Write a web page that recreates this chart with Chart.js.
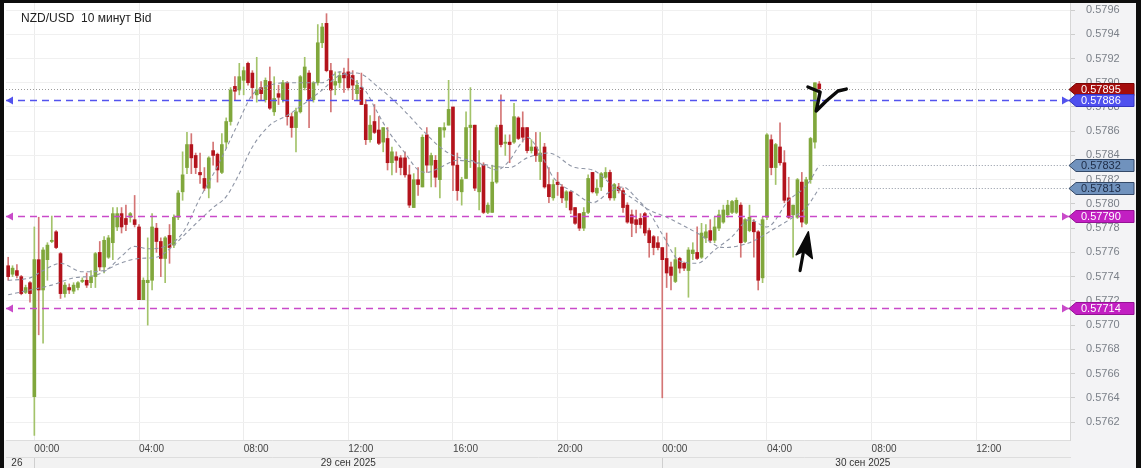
<!DOCTYPE html>
<html>
<head>
<meta charset="utf-8">
<script src="https://cdn.jsdelivr.net/npm/chart.js@4.4.1/dist/chart.umd.min.js"></script>
<style>
  html, body { margin: 0; padding: 0; background: #0d0d0d; }
  #chart-container { position: absolute; left: 4px; top: 3px; width: 1132px; height: 465px; }
</style>
</head>
<body>
<div id="chart-container"><canvas id="chart"></canvas></div>
<script>
// 10-minute candles, NZD/USD, from Fri 26 23:00 to Tue 30 06:00
const opens = [
  0.57749,0.57742,0.57745,0.57740,0.57727,0.57735,0.57641,0.57754,0.57729,0.57754,
  0.57769,0.57777,0.57759,0.57726,0.57731,0.57728,0.57731,0.57736,0.57737,0.57735,
  0.57740,0.57760,0.57748,0.57756,0.57768,0.57781,0.57792,0.57788,0.57789,0.57787,
  0.57781,0.57721,0.57735,0.57737,0.57780,0.57769,0.57755,0.57774,0.57766,0.57789,
  0.57810,0.57830,0.57849,0.57840,0.57826,0.57821,0.57813,0.57844,0.57841,0.57826,
  0.57851,0.57868,0.57897,0.57894,0.57902,0.57916,0.57908,0.57890,0.57896,0.57886,
  0.57901,0.57876,0.57891,0.57886,0.57900,0.57872,0.57863,0.57876,0.57896,0.57908,
  0.57886,0.57900,0.57933,0.57949,0.57910,0.57898,0.57900,0.57908,0.57909,0.57906,
  0.57891,0.57896,0.57882,0.57853,0.57868,0.57861,0.57851,0.57854,0.57834,0.57839,
  0.57838,0.57838,0.57824,0.57797,0.57820,0.57814,0.57857,0.57832,0.57836,0.57820,
  0.57861,0.57865,0.57880,0.57832,0.57810,0.57821,0.57863,0.57865,0.57810,0.57832,
  0.57793,0.57793,0.57818,0.57865,0.57850,0.57851,0.57851,0.57871,0.57863,0.57863,
  0.57844,0.57847,0.57835,0.57847,0.57816,0.57805,0.57818,0.57814,0.57803,0.57810,
  0.57797,0.57792,0.57780,0.57793,0.57826,0.57809,0.57814,0.57822,0.57826,0.57805,
  0.57814,0.57811,0.57799,0.57791,0.57787,0.57788,0.57792,0.57778,0.57773,0.57768,
  0.57764,0.57755,0.57748,0.57736,0.57755,0.57751,0.57745,0.57759,0.57760,0.57756,
  0.57772,0.57778,0.57770,0.57780,0.57785,0.57791,0.57793,0.57793,0.57799,0.57769,
  0.57778,0.57785,0.57777,0.57739,0.57789,0.57853,0.57830,0.57847,0.57834,0.57805,
  0.57791,0.57789,0.57818,0.57784,0.57820,0.57851,0.57899
];
const highs = [
  0.57756,0.57749,0.57750,0.57741,0.57733,0.57736,0.57781,0.57789,0.57764,0.57768,
  0.57790,0.57778,0.57760,0.57735,0.57734,0.57735,0.57736,0.57739,0.57743,0.57745,
  0.57760,0.57769,0.57773,0.57774,0.57797,0.57797,0.57797,0.57799,0.57793,0.57807,
  0.57783,0.57739,0.57772,0.57792,0.57784,0.57772,0.57773,0.57783,0.57791,0.57811,
  0.57843,0.57859,0.57858,0.57842,0.57842,0.57830,0.57839,0.57851,0.57842,0.57858,
  0.57871,0.57896,0.57905,0.57916,0.57913,0.57917,0.57910,0.57921,0.57901,0.57904,
  0.57913,0.57905,0.57898,0.57902,0.57901,0.57875,0.57879,0.57906,0.57921,0.57910,
  0.57901,0.57948,0.57949,0.57957,0.57916,0.57909,0.57909,0.57912,0.57920,0.57910,
  0.57902,0.57908,0.57886,0.57873,0.57882,0.57872,0.57863,0.57863,0.57847,0.57843,
  0.57840,0.57843,0.57832,0.57825,0.57830,0.57857,0.57863,0.57842,0.57840,0.57863,
  0.57867,0.57902,0.57880,0.57842,0.57822,0.57876,0.57896,0.57865,0.57844,0.57834,
  0.57801,0.57832,0.57865,0.57890,0.57857,0.57857,0.57883,0.57872,0.57876,0.57863,
  0.57853,0.57859,0.57859,0.57850,0.57830,0.57820,0.57826,0.57816,0.57811,0.57810,
  0.57797,0.57792,0.57797,0.57824,0.57826,0.57820,0.57826,0.57830,0.57828,0.57817,
  0.57817,0.57813,0.57801,0.57795,0.57795,0.57792,0.57793,0.57780,0.57774,0.57773,
  0.57764,0.57776,0.57752,0.57764,0.57756,0.57752,0.57764,0.57768,0.57781,0.57784,
  0.57783,0.57787,0.57789,0.57795,0.57799,0.57803,0.57803,0.57805,0.57801,0.57788,
  0.57799,0.57787,0.57778,0.57789,0.57858,0.57857,0.57850,0.57867,0.57844,0.57822,
  0.57799,0.57821,0.57826,0.57822,0.57855,0.57900,0.57901
];
const lows = [
  0.57737,0.57740,0.57739,0.57725,0.57726,0.57719,0.57609,0.57692,0.57685,0.57737,
  0.57768,0.57763,0.57722,0.57723,0.57726,0.57726,0.57729,0.57735,0.57731,0.57731,
  0.57731,0.57745,0.57743,0.57755,0.57754,0.57778,0.57776,0.57778,0.57785,0.57781,
  0.57721,0.57721,0.57700,0.57729,0.57760,0.57740,0.57735,0.57751,0.57764,0.57787,
  0.57803,0.57825,0.57825,0.57825,0.57817,0.57811,0.57805,0.57832,0.57818,0.57825,
  0.57846,0.57865,0.57886,0.57890,0.57890,0.57898,0.57887,0.57884,0.57886,0.57884,
  0.57878,0.57873,0.57882,0.57884,0.57865,0.57855,0.57843,0.57875,0.57894,0.57863,
  0.57884,0.57898,0.57929,0.57909,0.57876,0.57890,0.57896,0.57892,0.57894,0.57886,
  0.57886,0.57882,0.57849,0.57851,0.57858,0.57849,0.57843,0.57828,0.57824,0.57826,
  0.57824,0.57822,0.57797,0.57797,0.57807,0.57814,0.57826,0.57814,0.57814,0.57805,
  0.57855,0.57865,0.57811,0.57803,0.57799,0.57821,0.57830,0.57811,0.57795,0.57792,
  0.57792,0.57793,0.57817,0.57847,0.57840,0.57834,0.57850,0.57853,0.57851,0.57842,
  0.57842,0.57835,0.57820,0.57813,0.57801,0.57803,0.57807,0.57801,0.57797,0.57792,
  0.57783,0.57778,0.57778,0.57792,0.57809,0.57807,0.57811,0.57821,0.57803,0.57803,
  0.57809,0.57793,0.57784,0.57773,0.57776,0.57780,0.57774,0.57756,0.57758,0.57762,
  0.57640,0.57731,0.57729,0.57735,0.57743,0.57745,0.57723,0.57754,0.57754,0.57755,
  0.57768,0.57768,0.57768,0.57778,0.57784,0.57789,0.57792,0.57792,0.57756,0.57768,
  0.57777,0.57756,0.57729,0.57735,0.57787,0.57824,0.57816,0.57832,0.57801,0.57788,
  0.57756,0.57788,0.57781,0.57783,0.57817,0.57846,0.57894
];
const closes = [
  0.57740,0.57747,0.57741,0.57726,0.57731,0.57726,0.57754,0.57729,0.57762,0.57766,
  0.57770,0.57764,0.57726,0.57733,0.57729,0.57733,0.57735,0.57737,0.57733,0.57740,
  0.57759,0.57748,0.57770,0.57772,0.57792,0.57792,0.57781,0.57783,0.57792,0.57783,
  0.57721,0.57737,0.57737,0.57781,0.57769,0.57755,0.57772,0.57764,0.57789,0.57809,
  0.57824,0.57849,0.57838,0.57830,0.57824,0.57813,0.57838,0.57840,0.57828,0.57849,
  0.57868,0.57894,0.57893,0.57905,0.57910,0.57900,0.57896,0.57894,0.57891,0.57902,
  0.57879,0.57887,0.57888,0.57900,0.57872,0.57863,0.57876,0.57905,0.57913,0.57886,
  0.57900,0.57933,0.57946,0.57910,0.57894,0.57901,0.57906,0.57904,0.57896,0.57898,
  0.57898,0.57882,0.57853,0.57865,0.57859,0.57850,0.57863,0.57834,0.57843,0.57836,
  0.57830,0.57824,0.57799,0.57820,0.57816,0.57855,0.57832,0.57840,0.57822,0.57863,
  0.57863,0.57878,0.57832,0.57811,0.57820,0.57863,0.57865,0.57813,0.57830,0.57793,
  0.57799,0.57818,0.57863,0.57849,0.57851,0.57849,0.57872,0.57854,0.57855,0.57844,
  0.57847,0.57840,0.57842,0.57814,0.57806,0.57816,0.57816,0.57805,0.57810,0.57795,
  0.57784,0.57780,0.57793,0.57821,0.57810,0.57813,0.57825,0.57826,0.57805,0.57816,
  0.57811,0.57797,0.57785,0.57784,0.57783,0.57783,0.57776,0.57768,0.57764,0.57764,
  0.57754,0.57743,0.57741,0.57754,0.57747,0.57747,0.57762,0.57762,0.57755,0.57776,
  0.57777,0.57770,0.57781,0.57791,0.57795,0.57799,0.57802,0.57803,0.57768,0.57787,
  0.57789,0.57777,0.57737,0.57787,0.57857,0.57830,0.57849,0.57834,0.57803,0.57789,
  0.57799,0.57820,0.57785,0.57820,0.57854,0.57900,0.57895
];

// moving averages at a few candles
const maFastIdx = [0,5,8,12,17,22,26,29,32,36,40,44,48,52,56,60,64,68,72,76,79,82,84,87,91,94,96,99,103,107,109,112,115,117,119,122,125,130,134,138,141,144,147,150,154,158,162,166,170,174,179,183,186];
const maFastVal = [0.57737,0.57739,0.57745,0.57751,0.57744,0.57745,0.57757,0.57765,0.57763,0.57765,0.57776,0.57805,0.57831,0.57861,0.57890,0.57898,0.57900,0.57900,0.57900,0.57909,0.57903,0.57893,0.57880,0.57861,0.57842,0.57828,0.57826,0.57830,0.57836,0.57834,0.57832,0.57828,0.57836,0.57847,0.57855,0.57842,0.57822,0.57809,0.57801,0.57810,0.57814,0.57805,0.57793,0.57775,0.57753,0.57751,0.57762,0.57773,0.57787,0.57781,0.57803,0.57815,0.57832];
const maSlowIdx = [0,5,10,15,20,25,30,34,38,40,44,47,50,53,56,60,64,68,72,76,80,85,90,95,99,102,106,110,115,119,124,130,134,139,143,147,151,158,164,170,175,180,183,186];
const maSlowVal = [0.57725,0.57729,0.57733,0.57739,0.57741,0.57750,0.57755,0.57756,0.57766,0.57773,0.57787,0.57797,0.57806,0.57825,0.57847,0.57865,0.57873,0.57883,0.57894,0.57906,0.57908,0.57896,0.57880,0.57861,0.57847,0.57840,0.57836,0.57832,0.57830,0.57838,0.57842,0.57830,0.57828,0.57814,0.57805,0.57795,0.57789,0.57776,0.57764,0.57768,0.57778,0.57789,0.57797,0.57813];

// horizontal levels drawn by the user
const userLevels = [0.57886, 0.57790, 0.57714];

// axis
const slotCount = 244;
const yMin = 0.576052, yMax = 0.579658, yStep = 0.0002;
const timeTickIdx = [6, 30, 54, 78, 102, 126, 150, 174, 198, 222];
const timeTickLabels = ['00:00','04:00','08:00','12:00','16:00','20:00','00:00','04:00','08:00','12:00'];
const dateTickIdx = [2, 78, 196];
const dateTickLabels = ['26', '29 сен 2025', '30 сен 2025'];
const dayStartIdx = [6, 150];

// hand drawn marks (candle index, price)
const arrowShaftIdx = [181.6, 182.4];
const arrowShaftVal = [0.57745, 0.57761];
const arrowHeadIdx = [183.5, 180.7, 182.4, 184.4];
const arrowHeadVal = [0.57777, 0.57758, 0.57761, 0.57755];
const scribbleIdx = [183.4, 186.2, 185.3, 187.6, 190.3, 192.2];
const scribbleVal = [0.578965, 0.578924, 0.578767, 0.578849, 0.578932, 0.578948];

const pad = n => String(n).padStart(2, '0');
const slots = [];
for (let i = 0; i < slotCount; i++) {
  if (i < 6) { slots.push('26.09 23:' + pad(i * 10)); continue; }
  const m = (i - 6) * 10;
  slots.push((29 + Math.floor(m / 1440)) + '.09 ' + pad(Math.floor((m % 1440) / 60)) + ':' + pad(m % 60));
}

const GREEN = '#80a73c', RED = '#b3131c';
const GREEN_WICK = '#a3c36a', RED_WICK = '#d47575';
const FONT = '"Liberation Sans", Arial, sans-serif';

const isUp = opens.map((o, k) => closes[k] >= o);
const bodyData = opens.map((o, k) => [o, closes[k]]);
const wickData = lows.map((l, k) => [l, highs[k]]);

const sparse = (idx, val) => {
  const out = new Array(opens.length).fill(null);
  idx.forEach((k, j) => { out[k] = val[j]; });
  return out;
};
const isMajor = v => Math.abs(v / yStep - Math.round(v / yStep)) < 1e-6;

const badgeValues = [closes[closes.length - 1], userLevels[0], maFastVal[maFastVal.length - 1], maSlowVal[maSlowVal.length - 1], userLevels[1], userLevels[2]];
const badgeStyles = [
  { bg: '#a50d0d', edge: '#7a0505', fg: '#ffffff' },
  { bg: '#4f50ef', edge: '#3435c0', fg: '#ffffff' },
  { bg: '#7092bd', edge: '#344968', fg: '#1d2b45' },
  { bg: '#7092bd', edge: '#344968', fg: '#1d2b45' },
  { bg: '#c21fc2', edge: '#951295', fg: '#ffffff' },
  { bg: '#c21fc2', edge: '#951295', fg: '#ffffff' }
];
const levelColors = ['#5353ee', '#c94ac9', '#c94ac9'];

const paint = {
  id: 'paint',
  beforeDraw(chart) {
    const { ctx, width, height, chartArea, scales } = chart;
    ctx.save();
    ctx.fillStyle = '#ffffff';
    ctx.fillRect(0, 0, width, height);
    ctx.fillStyle = '#f3f3f5';
    ctx.fillRect(scales.y.left, 0, width - scales.y.left, height);
    ctx.fillStyle = '#f2f2f2';
    ctx.fillRect(0, chartArea.bottom, scales.y.left, height - chartArea.bottom);
    ctx.restore();
  },
  afterDatasetsDraw(chart) {
    const { ctx, chartArea: a, scales: { x, y } } = chart;
    const py = v => Math.round(y.getPixelForValue(v)) + 0.5;
    ctx.save();
    ctx.beginPath();
    ctx.rect(a.left, a.top, a.right - a.left, a.bottom - a.top);
    ctx.clip();
    ctx.lineWidth = 1;

    // last price
    ctx.strokeStyle = '#9c9c9c';
    ctx.setLineDash([1, 2]);
    ctx.beginPath();
    ctx.moveTo(a.left, py(badgeValues[0]));
    ctx.lineTo(a.right, py(badgeValues[0]));
    ctx.stroke();

    // moving average end values
    ctx.strokeStyle = '#8e94a2';
    const xs = x.getPixelForValue(opens.length - 1 + 0.8);
    [badgeValues[2], badgeValues[3]].forEach(v => {
      ctx.beginPath();
      ctx.moveTo(xs, py(v));
      ctx.lineTo(a.right, py(v));
      ctx.stroke();
    });

    // user levels
    ctx.setLineDash([7, 5]);
    ctx.lineWidth = 1.3;
    userLevels.forEach((v, k) => {
      const yy = py(v);
      ctx.strokeStyle = levelColors[k];
      ctx.fillStyle = levelColors[k];
      ctx.beginPath();
      ctx.moveTo(a.left, yy);
      ctx.lineTo(a.right, yy);
      ctx.stroke();
      ctx.beginPath();
      ctx.moveTo(a.left, yy); ctx.lineTo(a.left + 7, yy - 4); ctx.lineTo(a.left + 7, yy + 4);
      ctx.fill();
      ctx.beginPath();
      ctx.moveTo(a.right - 1, yy); ctx.lineTo(a.right - 8, yy - 4); ctx.lineTo(a.right - 8, yy + 4);
      ctx.fill();
    });

    // hand drawn marks
    ctx.setLineDash([]);
    ctx.strokeStyle = '#0a0a0a';
    ctx.fillStyle = '#0a0a0a';
    ctx.lineCap = 'round';
    ctx.lineJoin = 'round';
    ctx.lineWidth = 3.2;
    ctx.beginPath();
    arrowShaftIdx.forEach((k, j) => {
      const px = x.getPixelForValue(k), yy = y.getPixelForValue(arrowShaftVal[j]);
      j ? ctx.lineTo(px, yy) : ctx.moveTo(px, yy);
    });
    ctx.stroke();
    ctx.beginPath();
    arrowHeadIdx.forEach((k, j) => {
      const px = x.getPixelForValue(k), yy = y.getPixelForValue(arrowHeadVal[j]);
      j ? ctx.lineTo(px, yy) : ctx.moveTo(px, yy);
    });
    ctx.closePath();
    ctx.fill();
    ctx.lineWidth = 1.5;
    ctx.stroke();
    ctx.lineWidth = 3.4;
    ctx.beginPath();
    scribbleIdx.forEach((k, j) => {
      const px = x.getPixelForValue(k), yy = y.getPixelForValue(scribbleVal[j]);
      j ? ctx.lineTo(px, yy) : ctx.moveTo(px, yy);
    });
    ctx.stroke();
    ctx.restore();
  },
  afterDraw(chart) {
    const { ctx, width, scales: { y } } = chart;
    ctx.save();
    ctx.font = '11px ' + FONT;
    ctx.textBaseline = 'middle';
    badgeValues.forEach((v, k) => {
      const st = badgeStyles[k];
      const yy = Math.round(y.getPixelForValue(v)) + 0.5;
      const x0 = y.left - 1, x1 = y.left + 6, x2 = width - 2;
      ctx.beginPath();
      ctx.moveTo(x0, yy);
      ctx.lineTo(x1, yy - 6);
      ctx.lineTo(x2, yy - 6);
      ctx.lineTo(x2, yy + 6);
      ctx.lineTo(x1, yy + 6);
      ctx.closePath();
      ctx.fillStyle = st.bg;
      ctx.fill();
      ctx.strokeStyle = st.edge;
      ctx.lineWidth = 1;
      ctx.stroke();
      ctx.fillStyle = st.fg;
      ctx.fillText(v.toFixed(5), y.left + 11, yy + 0.5);
    });
    ctx.font = '12px ' + FONT;
    ctx.fillStyle = '#222222';
    ctx.textBaseline = 'alphabetic';
    ctx.fillText('NZD/USD  10 минут Bid', 17, 19);
    ctx.restore();
  }
};

new Chart(document.getElementById('chart'), {
  type: 'bar',
  data: {
    labels: slots,
    datasets: [
      { type: 'line', data: sparse(maFastIdx, maFastVal), borderColor: '#8f96a6', borderWidth: 1.1, borderDash: [4, 3],
        pointRadius: 0, spanGaps: true, cubicInterpolationMode: 'monotone', fill: false, order: 0 },
      { type: 'line', data: sparse(maSlowIdx, maSlowVal), borderColor: '#8f96a6', borderWidth: 1.1, borderDash: [4, 3],
        pointRadius: 0, spanGaps: true, cubicInterpolationMode: 'monotone', fill: false, order: 0 },
      { data: bodyData, backgroundColor: isUp.map(u => u ? GREEN : RED), barThickness: 3, grouped: false, order: 1 },
      { data: wickData, backgroundColor: isUp.map(u => u ? GREEN_WICK : RED_WICK), barThickness: 1, grouped: false, order: 2 }
    ]
  },
  options: {
    responsive: true,
    maintainAspectRatio: false,
    animation: false,
    devicePixelRatio: 1,
    events: [],
    layout: { padding: { left: 2, right: 0, top: 0, bottom: 0 } },
    plugins: { legend: { display: false }, tooltip: { enabled: false }, title: { display: false } },
    scales: {
      x: {
        type: 'category', position: 'bottom', offset: true, weight: 0,
        grid: { offset: false, drawTicks: false, color: c => (c.tick && timeTickIdx.includes(c.tick.value)) ? '#ececec' : 'rgba(0,0,0,0)' },
        border: { display: true, color: '#dddddd' },
        ticks: {
          autoSkip: false, maxRotation: 0, minRotation: 0, align: 'start', padding: 3,
          color: '#444444', font: { family: FONT, size: 10 },
          callback: (v, i) => { const k = timeTickIdx.indexOf(v); return k >= 0 ? timeTickLabels[k] : null; }
        },
        afterFit: s => { s.height = 17; s.paddingLeft = 0; s.paddingRight = 0; }
      },
      x2: {
        type: 'category', position: 'bottom', offset: true, weight: 1,
        grid: { offset: false, drawOnChartArea: false, drawTicks: true, tickLength: 11,
          color: c => (c.tick && dayStartIdx.includes(c.tick.value)) ? '#cfcfcf' : 'rgba(0,0,0,0)' },
        border: { display: true, color: '#dddddd' },
        ticks: {
          autoSkip: false, maxRotation: 0, minRotation: 0, padding: -11,
          color: '#333333', font: { family: FONT, size: 10 },
          callback: (v, i) => {
            const k = dateTickIdx.indexOf(v);
            if (k >= 0) return dateTickLabels[k];
            return dayStartIdx.includes(v) ? '' : null;
          }
        },
        afterFit: s => { s.height = 11; s.paddingLeft = 0; s.paddingRight = 0; }
      },
      y: {
        type: 'linear', position: 'right', min: yMin, max: yMax,
        grid: { color: c => (c.tick && isMajor(c.tick.value)) ? '#f0f0f0' : 'rgba(0,0,0,0)', tickLength: 5, tickColor: '#cdcdcd' },
        border: { display: true, color: '#d6d6d6' },
        ticks: {
          stepSize: yStep, includeBounds: false, padding: 11, color: '#7b8089', font: { family: FONT, size: 11 },
          callback: v => isMajor(v) ? v.toFixed(4) : null
        },
        afterFit: s => { s.width = 66; s.paddingTop = 0; s.paddingBottom = 0; }
      }
    }
  },
  plugins: [paint]
});
</script>
</body>
</html>
